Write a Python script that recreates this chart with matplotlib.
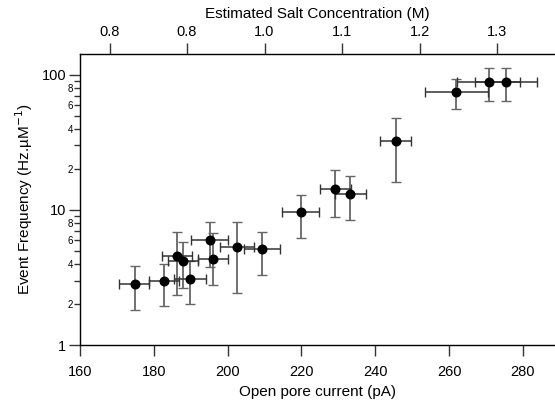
import numpy as np
import matplotlib.pyplot as plt
from matplotlib.ticker import FixedLocator, FixedFormatter

plt.rcParams['font.family'] = ['Liberation Sans', 'DejaVu Sans']

# open pore current (pA) and event frequency (Hz/uM)
current = [174.8, 182.8, 186.2, 187.9, 189.9, 195.2, 196.0, 202.6, 209.3,
           219.8, 229.2, 233.2, 245.6, 261.9, 270.9, 275.4]
freq = [2.82, 2.98, 4.59, 4.19, 3.08, 6.0, 4.36, 5.32, 5.12,
        9.61, 14.3, 13.07, 32.4, 74.8, 88.3, 89.2]
# error bar ends
cur_lo = [170.7, 178.6, 182.3, 183.9, 185.4, 190.0, 191.9, 198.0, 204.5,
          214.8, 225.0, 229.0, 241.4, 253.4, 262.1, 267.1]
cur_hi = [178.8, 186.8, 190.4, 191.9, 194.2, 200.2, 200.2, 207.2, 214.1,
          224.8, 233.4, 237.4, 249.8, 270.5, 279.2, 283.8]
freq_lo = [1.82, 1.95, 2.35, 2.63, 2.0, 3.76, 2.80, 2.42, 3.28,
           6.2, 8.9, 8.39, 16.2, 56.3, 64.4, 64.4]
freq_hi = [3.83, 4.0, 6.84, 5.77, 4.17, 8.19, 6.78, 8.19, 6.9,
           12.98, 19.7, 17.8, 48.3, 93.4, 112, 112]

salt_ticks = [0.8, 0.9, 1.0, 1.1, 1.2, 1.3]
salt_labels = ['0.8', '0.8', '1.0', '1.1', '1.2', '1.3']

x = np.array(current)
y = np.array(freq)
xerr = [x - np.array(cur_lo), np.array(cur_hi) - x]
yerr = [y - np.array(freq_lo), np.array(freq_hi) - y]

fig = plt.figure(figsize=(5.55, 4.05), dpi=100)
ax = fig.add_axes([0.1441, 0.148, 0.856, 0.719])

ax.errorbar(x, y, yerr=yerr, fmt='none', ecolor='#666666', elinewidth=1.3,
            capsize=3.5, capthick=1.0)
ax.errorbar(x, y, xerr=xerr, fmt='none', ecolor='#333333', elinewidth=1.1,
            capsize=3.5, capthick=1.0)
ax.plot(x, y, 'o', color='black', markersize=6.2, zorder=5)

ax.set_yscale('log')
ax.set_xlim(160, 288.7)
ax.set_ylim(1, 143)
ax.set_xticks([160, 180, 200, 220, 240, 260, 280])
ax.yaxis.set_major_locator(FixedLocator([1, 10, 100]))
ax.yaxis.set_major_formatter(FixedFormatter(['1', '10', '100']))
minor = [m * d for d in (1, 10) for m in range(2, 10)]
ax.yaxis.set_minor_locator(FixedLocator(minor))
ax.yaxis.set_minor_formatter(FixedFormatter(
    [str(m) if m in (2, 4, 6, 8) else '' for d in (1, 10) for m in range(2, 10)]))

ax.spines['right'].set_visible(False)
for s in ['left', 'bottom', 'top']:
    ax.spines[s].set_color('#333333')
    ax.spines[s].set_linewidth(1.0)

ax.tick_params(axis='both', which='major', direction='out', length=8,
               width=1.0, color='#333333', labelsize=10.5, pad=2)
ax.tick_params(axis='y', which='minor', direction='out', length=4,
               width=1.0, color='#333333', labelsize=7, pad=1)
ax.tick_params(axis='x', which='major', pad=6)

ax.set_xlabel('Open pore current (pA)', fontsize=11, labelpad=5)
ax.set_ylabel('Event Frequency (Hz.µM$^{-1}$)', fontsize=11, labelpad=5)

top = ax.twiny()
top.set_xlim(160 / 210, 288.7 / 210)
top.set_xticks(salt_ticks)
top.set_xticklabels(salt_labels)
top.spines['right'].set_visible(False)
top.tick_params(axis='x', direction='out', length=8, width=1.0,
                color='#333333', labelsize=10.5, pad=3)
top.set_xlabel('Estimated Salt Concentration (M)', fontsize=11, labelpad=5)

fig.savefig('out.png', dpi=100)
